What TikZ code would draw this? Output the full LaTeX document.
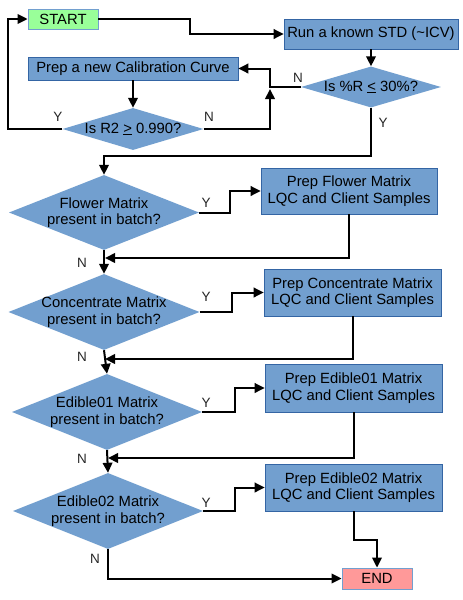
\documentclass[tikz,border=0pt]{standalone}
\usepackage{fontspec}
\setmainfont{Liberation Sans}
\usetikzlibrary{shapes.geometric,arrows.meta}
\definecolor{boxblue}{HTML}{729FCF}
\definecolor{boxedge}{HTML}{3465A4}
\definecolor{startgreen}{HTML}{99FF99}
\definecolor{endpink}{HTML}{FF9999}
\definecolor{lblcol}{HTML}{262626}
\tikzset{
  every node/.style={font=\fontsize{14.8}{16.5}\selectfont},
  procbox/.style={rectangle, fill=boxblue, draw=boxedge, line width=0.6pt, align=center, inner sep=0pt},
  termbox/.style={rectangle, draw=boxblue, line width=0.8pt, align=center, inner sep=0pt},
  decide/.style={diamond, fill=boxblue, align=center, inner sep=-6pt, shape aspect=2.5},
  flowline/.style={line width=2pt, black},
  arr/.style={flowline, -{Triangle[length=10pt,width=9.5pt]}},
  lbl/.style={font=\fontsize{13.5}{15}\selectfont, text=lblcol, inner sep=0pt}
}
\begin{document}
\begin{tikzpicture}[x=1pt,y=-1pt]
\useasboundingbox[fill=white] (0,0) rectangle (463,600);

% nodes
\node[termbox, fill=startgreen, minimum width=70pt, minimum height=20pt] (start) at (63,19) {START};
\node[procbox, minimum width=174pt, minimum height=30pt] (run) at (371,34) {Run a known STD (\textasciitilde ICV)};
\node[decide, shape aspect=3.4, minimum width=140pt, minimum height=41pt] (pr) at (371,87) {Is \%R \underline{<} 30\%?};
\node[procbox, minimum width=210pt, minimum height=23pt] (cal) at (133,68.5) {Prep a new Calibration Curve};
\node[decide, shape aspect=3.35, minimum width=141pt, minimum height=42pt] (r2) at (133,129) {Is R2 \underline{>} 0.990?};

\node[decide, minimum width=190pt, minimum height=75pt] (d1) at (104,212.5) {Flower Matrix\\present in batch?};
\node[procbox, minimum width=176pt, minimum height=46pt] (b1) at (349,191) {Prep Flower Matrix\\LQC and Client Samples};
\node[decide, minimum width=191pt, minimum height=76pt] (d2) at (104,312) {Concentrate Matrix\\present in batch?};
\node[procbox, minimum width=177pt, minimum height=47pt] (b2) at (352.5,292.5) {Prep Concentrate Matrix\\LQC and Client Samples};
\node[decide, minimum width=190pt, minimum height=76pt] (d3) at (107,412) {Edible01 Matrix\\present in batch?};
\node[procbox, minimum width=177pt, minimum height=48pt] (b3) at (353.5,388) {Prep Edible01 Matrix\\LQC and Client Samples};
\node[decide, minimum width=190pt, minimum height=76pt] (d4) at (108,511) {Edible02 Matrix\\present in batch?};
\node[procbox, minimum width=177pt, minimum height=47pt] (b4) at (353.5,487.5) {Prep Edible02 Matrix\\LQC and Client Samples};
\node[termbox, fill=endpink, minimum width=70pt, minimum height=21pt] (end) at (377,578.5) {END};

% helper coordinates
\coordinate (j1) at (270,87);
\coordinate (j1b) at (270,89);
\coordinate (j2) at (371,156);
\coordinate (lp) at (8,129);
\coordinate (m1) at (105,258);
\coordinate (m2) at (105,359);
\coordinate (m3) at (108,458);
\coordinate (k4) at (353.5,540);

% connectors
\draw[arr] (start.east) -- ++(92,0) |- (run.west);
\draw[arr] (run.south) -- (pr.north);
\draw[arr] (pr.west) -- (j1) |- (cal.east);
\draw[arr] (cal.south) -- (r2.north);
\draw[arr] (r2.east) -| (j1b);
\draw[arr] (r2.west) -- (lp) |- (start.west);
\draw[arr] (pr.south) -- (j2) -| (d1.north);

\draw[arr] (d1.east) -- ++(31,0) |- (b1.west);
\draw[arr] (b1.south) |- (m1);
\draw[arr] (d1.south) -- (d2.north);
\draw[arr] (d2.east) -- ++(32,0) |- (b2.west);
\draw[arr] (b2.south) |- (m2);
\draw[arr] (d2.south) -- (d3.north);
\draw[arr] (d3.east) -- ++(33,0) |- (b3.west);
\draw[arr] (b3.south) |- (m3);
\draw[arr] (d3.south) -- (d4.north);
\draw[arr] (d4.east) -- ++(32,0) |- (b4.west);
\draw[arr] (b4.south) -- (k4) -| (end.north);
\draw[arr] (d4.south) |- (end.west);

% labels
\node[lbl] (lpn) at (298,78) {N};
\node[lbl] (lr2y) at (58,117) {Y};
\node[lbl] (lr2n) at (209,117) {N};
\node[lbl] (lpy) at (383,123) {Y};
\node[lbl] (l1y) at (206,203) {Y};
\node[lbl] (l1n) at (82,263) {N};
\node[lbl] (l2y) at (206,297) {Y};
\node[lbl] (l2n) at (82,357) {N};
\node[lbl] (l3y) at (206,403) {Y};
\node[lbl] (l3n) at (82,459) {N};
\node[lbl] (l4y) at (206,503) {Y};
\node[lbl] (l4n) at (95,559) {N};
\end{tikzpicture}
\end{document}
